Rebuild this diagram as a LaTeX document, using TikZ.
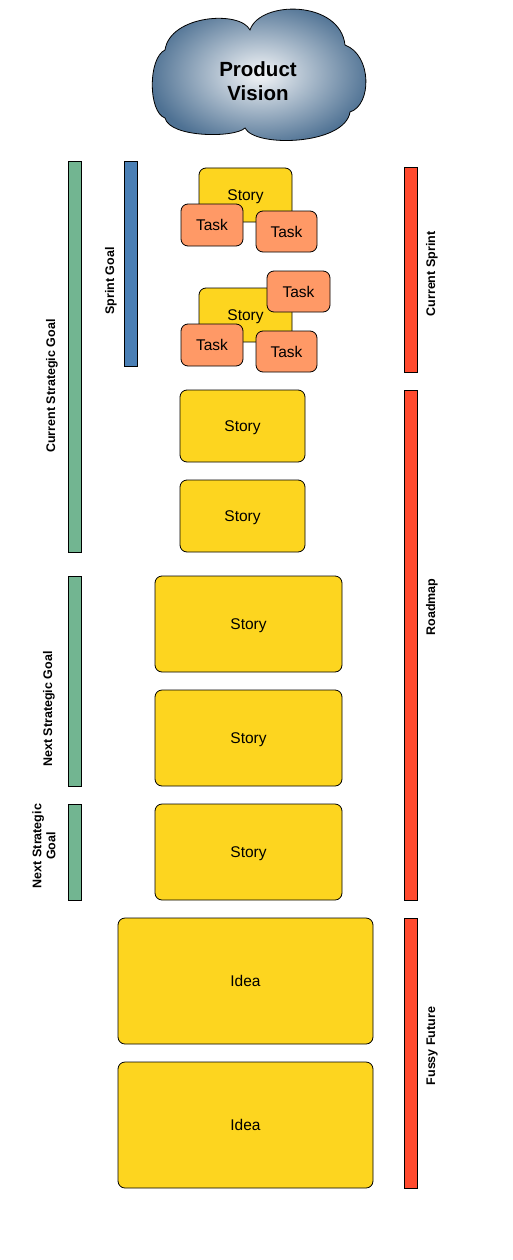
\documentclass[tikz,border=0pt]{standalone}
\usepackage{fontspec}
\setmainfont{Liberation Sans}
\definecolor{storyY}{HTML}{FDD51F}
\definecolor{taskO}{HTML}{FF9966}
\definecolor{goalG}{HTML}{72B591}
\definecolor{goalB}{HTML}{4A7FB5}
\definecolor{barR}{HTML}{FF4A2E}
\definecolor{cloudOut}{HTML}{4E7193}
\definecolor{cloudIn}{HTML}{F4F6F8}
\tikzset{
  card/.style={draw=black, line width=0.8pt, rounded corners=7pt, inner sep=0pt, text depth=0pt, font=\fontsize{15.5}{18}\selectfont},
  storybox/.style={card, fill=storyY},
  taskbox/.style={card, fill=taskO, minimum width=62pt, minimum height=42pt},
  bar/.style={draw=black, line width=1pt, minimum width=13pt, inner sep=0pt},
  barlabel/.style={rotate=90, font=\bfseries\fontsize{12.5}{14}\selectfont, align=center}
}
\begin{document}
\begin{tikzpicture}[x=1pt,y=-1pt]
\useasboundingbox (0,0) rectangle (513,1260);
% cloud
\path[draw=black, line width=0.8pt, inner color=cloudIn, outer color=cloudOut]
  (165,50) .. controls (170,15) and (240,10) .. (250,30)
  .. controls (260,0) and (340,0) .. (345,45)
  .. controls (372,55) and (372,105) .. (350,112)
  .. controls (345,145) and (255,148) .. (245,128)
  .. controls (235,138) and (170,138) .. (165,118)
  .. controls (148,112) and (148,58) .. (165,50) -- cycle;
\node[font=\bfseries\fontsize{20.5}{24}\selectfont, align=center] (vision) at (258,81) {Product\\Vision};

% left bars
\node[bar, fill=goalG, minimum height=390pt] (csg) at (74.5,357) {};
\node[barlabel] (csgl) at (52,386) {Current Strategic Goal};
\node[bar, fill=goalB, minimum height=204pt] (sg) at (130.5,264) {};
\node[barlabel] (sgl) at (111,281) {Sprint Goal};
\node[bar, fill=goalG, minimum height=210pt] (nsg) at (74.5,681) {};
\node[barlabel] (nsgl) at (49,709) {Next Strategic Goal};
\node[bar, fill=goalG, minimum height=96pt] (nsg2) at (74.5,852) {};
\node[barlabel] (nsg2l) at (44,846) {Next Strategic\\Goal};

% right bars
\node[bar, fill=barR, minimum height=204pt] (cs) at (410.5,270) {};
\node[barlabel] (csl) at (432,274) {Current Sprint};
\node[bar, fill=barR, minimum height=510pt] (rm) at (410.5,645) {};
\node[barlabel] (rml) at (432,607) {Roadmap};
\node[bar, fill=barR, minimum height=270pt] (ff) at (410.5,1053) {};
\node[barlabel] (ffl) at (432,1046) {Fussy Future};

% sprint stories and tasks
\node[storybox, minimum width=93pt, minimum height=54pt] (s1) at (245.5,195) {Story};
\node[taskbox] (t1) at (212,225) {Task};
\node[taskbox, minimum width=61pt, minimum height=41pt] (t2) at (286.5,231.5) {Task};
\node[storybox, minimum width=93pt, minimum height=54pt] (s2) at (245.5,315) {Story};
\node[taskbox, minimum width=63pt, minimum height=41pt] (t3) at (298.5,291.5) {Task};
\node[taskbox] (t4) at (212,345) {Task};
\node[taskbox, minimum width=61pt, minimum height=41pt] (t5) at (286.5,351.5) {Task};

% roadmap stories
\node[storybox, minimum width=125pt, minimum height=72pt] (s3) at (242.5,426) {Story};
\node[storybox, minimum width=125pt, minimum height=72pt] (s4) at (242.5,516) {Story};
\node[storybox, minimum width=187pt, minimum height=96pt] (s5) at (248.5,624) {Story};
\node[storybox, minimum width=187pt, minimum height=96pt] (s6) at (248.5,738) {Story};
\node[storybox, minimum width=187pt, minimum height=96pt] (s7) at (248.5,852) {Story};

% ideas
\node[storybox, minimum width=255pt, minimum height=126pt] (i1) at (245.5,981) {Idea};
\node[storybox, minimum width=255pt, minimum height=126pt] (i2) at (245.5,1125) {Idea};
\end{tikzpicture}
\end{document}
